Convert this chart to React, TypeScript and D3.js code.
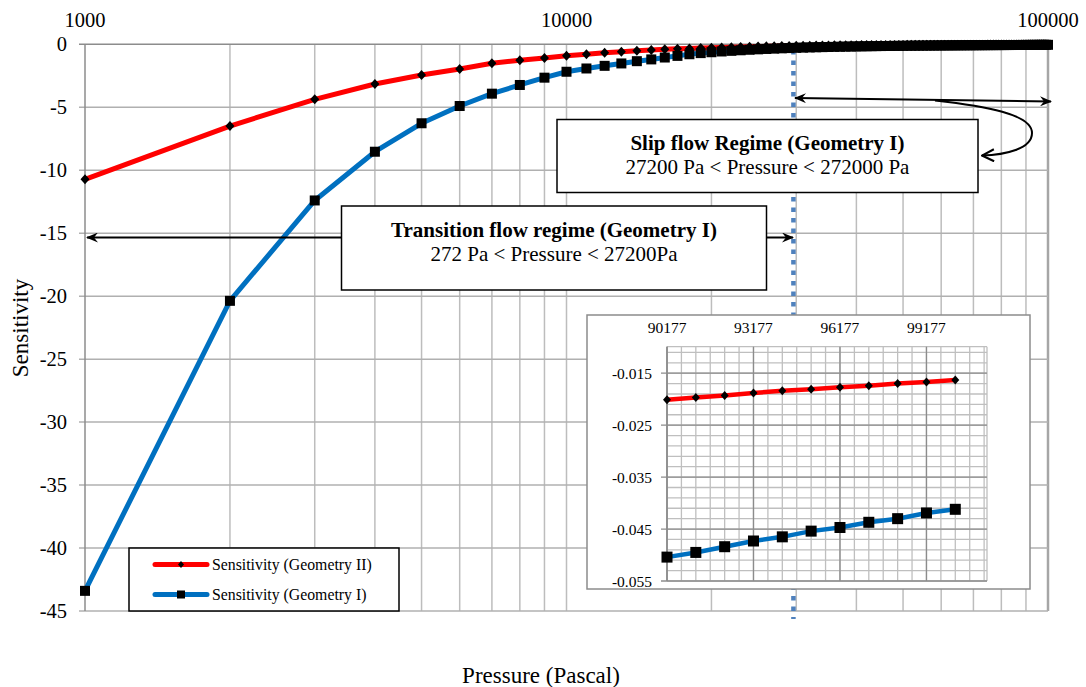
import React from 'react';
import * as d3 from 'd3';

// main chart: pressure every 1000 Pa
const pressure = d3.range(1000, 100001, 1000);

const sensGeo2 = [
  -10.72, -6.49, -4.37, -3.15, -2.44, -1.96, -1.51, -1.27, -1.09, -0.91,
  -0.79, -0.68, -0.59, -0.52, -0.46, -0.40, -0.36, -0.325, -0.295, -0.27,
  -0.245, -0.225, -0.205, -0.19, -0.175, -0.162, -0.15, -0.14, -0.13, -0.121,
  -0.113, -0.106, -0.099, -0.093, -0.088, -0.083, -0.078, -0.074, -0.07, -0.066,
  -0.064, -0.062, -0.06, -0.058, -0.056, -0.054, -0.052, -0.05, -0.048, -0.047,
  -0.0455, -0.044, -0.043, -0.0415, -0.0405, -0.0395, -0.0385, -0.0375, -0.0365, -0.0355,
  -0.0347, -0.0339, -0.0331, -0.0323, -0.0316, -0.0309, -0.0302, -0.0295, -0.0289, -0.0283,
  -0.0277, -0.0271, -0.0265, -0.0259, -0.0253, -0.0247, -0.0242, -0.0237, -0.0232, -0.0227,
  -0.0223, -0.0219, -0.0215, -0.0212, -0.0209, -0.0207, -0.0205, -0.0203, -0.0202, -0.0201,
  -0.0197, -0.0193, -0.0188, -0.0184, -0.0181, -0.0177, -0.0174, -0.017, -0.0167, -0.0163,
];

const sensGeo1 = [
  -43.4, -20.37, -12.4, -8.53, -6.27, -4.9, -3.92, -3.23, -2.65, -2.18,
  -1.92, -1.71, -1.52, -1.34, -1.2, -1.05, -0.92, -0.79, -0.7, -0.63,
  -0.57, -0.52, -0.475, -0.435, -0.4, -0.37, -0.345, -0.32, -0.3, -0.28,
  -0.265, -0.25, -0.237, -0.225, -0.214, -0.204, -0.195, -0.186, -0.178, -0.17,
  -0.163, -0.157, -0.151, -0.145, -0.14, -0.135, -0.13, -0.126, -0.122, -0.118,
  -0.114, -0.111, -0.108, -0.105, -0.102, -0.099, -0.097, -0.094, -0.092, -0.09,
  -0.088, -0.086, -0.084, -0.082, -0.08, -0.079, -0.077, -0.076, -0.074, -0.073,
  -0.071, -0.07, -0.069, -0.067, -0.066, -0.065, -0.064, -0.063, -0.062, -0.061,
  -0.06, -0.059, -0.058, -0.057, -0.056, -0.055, -0.054, -0.053, -0.052, -0.0504,
  -0.0495, -0.0484, -0.0473, -0.0465, -0.0454, -0.0447, -0.0437, -0.043, -0.0419, -0.0412,
];

const yTicks = [0, -5, -10, -15, -20, -25, -30, -35, -40, -45];
const xTickLabels = [1000, 10000, 100000];

// inset (zoom on the high pressure end)
const insetPressure = [90177, 91177, 92177, 93177, 94177, 95177, 96177, 97177, 98177, 99177, 100177];
const insetGeo2 = [-0.0201, -0.0197, -0.0193, -0.0188, -0.0184, -0.0181, -0.0177, -0.0174, -0.017, -0.0167, -0.0163];
const insetGeo1 = [-0.0504, -0.0495, -0.0484, -0.0473, -0.0465, -0.0454, -0.0447, -0.0437, -0.043, -0.0419, -0.0412];
const insetXTicks = [90177, 93177, 96177, 99177];
const insetYTicks = [-0.015, -0.025, -0.035, -0.045, -0.055];

const regimeBoundary = 29600;

const RED = '#ff0000';
const BLUE = '#0070c0';
const FONT = "'Liberation Serif', 'Times New Roman', Times, serif";

function diamond(x: number, y: number, r: number) {
  return `M${x},${y - r - 0.5}L${x + r},${y}L${x},${y + r + 0.5}L${x - r},${y}Z`;
}

export default function App() {
  const width = 1086;
  const height = 687;
  const m = { left: 85, right: 1048, top: 44.3, bottom: 611 };

  const x = d3.scaleLog().domain([1000, 100000]).range([m.left, m.right]);
  const y = d3.scaleLinear().domain([0, -45]).range([m.top, m.bottom]);

  const gridX = [
    ...d3.range(2000, 10000, 1000),
    10000,
    ...d3.range(20000, 100000, 10000),
  ];

  const line = d3
    .line<number>()
    .x((_, i) => x(pressure[i]))
    .y(d => y(d));

  // inset scales
  const ib = { left: 587, right: 1030, top: 315, bottom: 589 };
  const ip = { left: 667, right: 987, top: 346.7, bottom: 581 };
  const ix = d3.scaleLinear().domain([90177, 101277]).range([ip.left, ip.right]);
  const iy = d3.scaleLinear().domain([-0.055, -0.0099]).range([ip.bottom, ip.top]);
  const insetMinorX = d3.range(90177, 101200, 500);
  const insetMinorY = d3.range(-0.055, -0.0099, 0.002);
  const insetLine = d3
    .line<number>()
    .x((_, i) => ix(insetPressure[i]))
    .y(d => iy(d));

  const txt = { fontFamily: FONT };

  return (
    <svg
      width={width}
      height={height}
      style={{ position: 'absolute', left: 0, top: 0, background: '#fff', fontFamily: FONT }}
    >
      <defs>
        <marker id="stealth" viewBox="0 0 12 10" refX="11" refY="5" markerWidth="12" markerHeight="10" markerUnits="userSpaceOnUse" orient="auto-start-reverse">
          <path d="M0,0 L12,5 L0,10 L4,5 Z" fill="#000" />
        </marker>
        <marker id="openV" viewBox="0 0 14 14" refX="13" refY="7" markerWidth="14" markerHeight="14" markerUnits="userSpaceOnUse" orient="auto">
          <path d="M1,1 L13,7 L1,13" fill="none" stroke="#000" strokeWidth="2" />
        </marker>
      </defs>

      {/* grid */}
      <g>
        {gridX.map(v => (
          <line key={v} x1={x(v)} x2={x(v)} y1={m.top} y2={m.bottom} stroke="#bdbdbd" strokeWidth={1.5} />
        ))}
        <line x1={m.right} x2={m.right} y1={m.top} y2={m.bottom} stroke="#a6a6a6" strokeWidth={2.5} />
        {yTicks.map(v => (
          <line key={v} x1={m.left - 6} x2={m.right} y1={y(v)} y2={y(v)} stroke={v === 0 ? '#8c8c8c' : '#b0b0b0'} strokeWidth={1.5} />
        ))}
        <line x1={m.left} x2={m.left} y1={m.top} y2={m.bottom} stroke="#8c8c8c" strokeWidth={1.5} />
      </g>

      {/* ticks */}
      <g fontSize={20.5} fill="#000" style={txt}>
        {yTicks.map(v => (
          <text key={v} x={67} y={y(v)} textAnchor="end" dominantBaseline="central">
            {v}
          </text>
        ))}
        {xTickLabels.map(v => (
          <text key={v} x={x(v)} y={20} textAnchor="middle" dominantBaseline="central">
            {v}
          </text>
        ))}
      </g>

      {/* regime boundary */}
      <line
        x1={x(regimeBoundary)}
        x2={x(regimeBoundary)}
        y1={50}
        y2={619}
        stroke="#4f81bd"
        strokeWidth={4.5}
        strokeDasharray="4.5 6"
      />

      {/* series */}
      <path d={line(sensGeo1) || ''} fill="none" stroke={BLUE} strokeWidth={5} strokeLinejoin="round" />
      <path d={line(sensGeo2) || ''} fill="none" stroke={RED} strokeWidth={5} strokeLinejoin="round" />
      {sensGeo1.map((d, i) => (
        <rect key={'s' + i} x={x(pressure[i]) - 5} y={y(d) - 5} width={10} height={10} fill="#000" />
      ))}
      {sensGeo2.map((d, i) => (
        <path key={'d' + i} d={diamond(x(pressure[i]), y(d), 4.5)} fill="#000" />
      ))}

      {/* slip flow annotation */}
      <line x1={795} y1={98} x2={1051} y2={101.5} stroke="#000" strokeWidth={2} markerStart="url(#stealth)" markerEnd="url(#stealth)" />
      <path d="M935,100.5 C985,106 1032,114 1032,133 C1032,149 1005,155 982,155.5" fill="none" stroke="#000" strokeWidth={2} markerEnd="url(#openV)" />
      <rect x={557} y={119.5} width={421} height={73} fill="#fff" stroke="#000" strokeWidth={1.5} />
      <g style={txt} fontSize={21}>
        <text x={767.5} y={143} textAnchor="middle" dominantBaseline="central" fontWeight="bold">
          Slip flow Regime (Geometry I)
        </text>
        <text x={767.5} y={166.5} textAnchor="middle" dominantBaseline="central">
          27200 Pa &lt; Pressure &lt; 272000 Pa
        </text>
      </g>

      {/* transition flow annotation */}
      <line x1={341} y1={237.5} x2={87} y2={237.5} stroke="#000" strokeWidth={2} markerEnd="url(#stealth)" />
      <line x1={767} y1={237.5} x2={793} y2={237.5} stroke="#000" strokeWidth={2} markerEnd="url(#stealth)" />
      <rect x={341.5} y={206} width={425} height={84} fill="#fff" stroke="#000" strokeWidth={1.5} />
      <g style={txt} fontSize={21}>
        <text x={554} y={229.5} textAnchor="middle" dominantBaseline="central" fontWeight="bold">
          Transition flow regime (Geometry I)
        </text>
        <text x={554} y={253.5} textAnchor="middle" dominantBaseline="central">
          272 Pa &lt; Pressure &lt; 27200Pa
        </text>
      </g>

      {/* legend */}
      <rect x={129} y={548} width={270} height={63} fill="#fff" stroke="#000" strokeWidth={1.5} />
      <line x1={155} x2={207} y1={564.5} y2={564.5} stroke={RED} strokeWidth={5} strokeLinecap="round" />
      <path d={diamond(181, 564.5, 3)} fill="#000" />
      <g style={txt} fontSize={15.8}>
        <text x={212} y={564.5} dominantBaseline="central">Sensitivity (Geometry II)</text>
        <text x={212} y={594.5} dominantBaseline="central">Sensitivity (Geometry I)</text>
      </g>
      <line x1={155} x2={207} y1={594.5} y2={594.5} stroke={BLUE} strokeWidth={5} strokeLinecap="round" />
      <rect x={177} y={590.5} width={8} height={8} fill="#000" />

      {/* inset */}
      <rect x={ib.left} y={ib.top} width={ib.right - ib.left} height={ib.bottom - ib.top} fill="#fff" stroke="#8c8c8c" strokeWidth={1.5} />
      <g>
        {insetMinorX.map(v => (
          <line key={'ix' + v} x1={ix(v)} x2={ix(v)} y1={ip.top} y2={ip.bottom} stroke="#bfbfbf" strokeWidth={1.3} />
        ))}
        {insetMinorY.map(v => (
          <line key={'iy' + v} x1={ip.left} x2={ip.right} y1={iy(v)} y2={iy(v)} stroke="#bfbfbf" strokeWidth={1.3} />
        ))}
        <line x1={ip.left} x2={ip.right} y1={ip.top} y2={ip.top} stroke="#bfbfbf" strokeWidth={1.3} />
        <line x1={ip.right} x2={ip.right} y1={ip.top} y2={ip.bottom} stroke="#bfbfbf" strokeWidth={1.3} />
        {insetXTicks.map(v => (
          <line key={'mx' + v} x1={ix(v)} x2={ix(v)} y1={ip.top} y2={ip.bottom} stroke="#8c8c8c" strokeWidth={1.3} />
        ))}
        {insetYTicks.map(v => (
          <line key={'my' + v} x1={ip.left - 6} x2={ip.right} y1={iy(v)} y2={iy(v)} stroke="#8c8c8c" strokeWidth={1.3} />
        ))}
        <line x1={ip.left} x2={ip.left} y1={ip.top} y2={ip.bottom} stroke="#8c8c8c" strokeWidth={1.5} />
      </g>
      <g fontSize={15.5} style={txt}>
        {insetXTicks.map(v => (
          <text key={v} x={ix(v)} y={327} textAnchor="middle" dominantBaseline="central">
            {v}
          </text>
        ))}
        {insetYTicks.map(v => (
          <text key={v} x={652} y={iy(v)} textAnchor="end" dominantBaseline="central">
            {v.toFixed(3)}
          </text>
        ))}
      </g>
      <path d={insetLine(insetGeo1) || ''} fill="none" stroke={BLUE} strokeWidth={4.5} />
      <path d={insetLine(insetGeo2) || ''} fill="none" stroke={RED} strokeWidth={4.5} />
      {insetGeo1.map((d, i) => (
        <rect key={'is' + i} x={ix(insetPressure[i]) - 5.5} y={iy(d) - 5.5} width={11} height={11} fill="#000" />
      ))}
      {insetGeo2.map((d, i) => (
        <path key={'id' + i} d={diamond(ix(insetPressure[i]), iy(d), 4)} fill="#000" />
      ))}

      {/* axis titles */}
      <g style={txt} fontSize={23}>
        <text transform="translate(20,328) rotate(-90)" textAnchor="middle" dominantBaseline="central">
          Sensitivity
        </text>
        <text x={541} y={675} textAnchor="middle" dominantBaseline="central">
          Pressure (Pascal)
        </text>
      </g>
    </svg>
  );
}
